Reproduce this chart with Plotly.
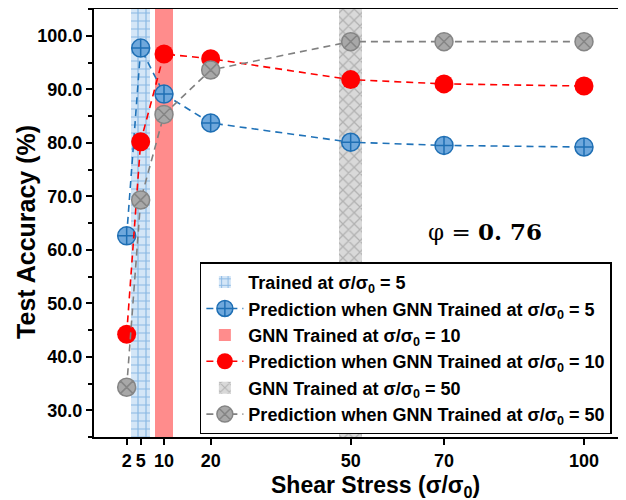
import plotly.graph_objects as go

stress = [2, 5, 10, 20, 50, 70, 100]
acc_trained5 = [62.6, 97.7, 89.1, 83.7, 80.1, 79.5, 79.2]
acc_trained10 = [44.2, 80.2, 96.6, 95.7, 91.8, 91.0, 90.6]
acc_trained50 = [34.3, 69.3, 85.3, 93.6, 98.9, 98.9, 98.9]

band_centers = [5, 10, 50]
band_widths = [4, 4, 5]
y_min, y_max = 25, 105

FONT = "Liberation Sans, Arial, sans-serif"

fig = go.Figure()

# Training bands
fig.add_trace(go.Bar(
    x=[band_centers[0]], y=[y_max - y_min], base=[y_min], width=[band_widths[0]],
    marker=dict(color="#d4e6f7", line=dict(width=0),
                pattern=dict(shape="+", fgcolor="#3f8ad0", bgcolor="#d4e6f7", size=8, solidity=0.28)),
    name="Trained at σ/σ<sub>0</sub> = 5", legendgroup="a", legendrank=1))
fig.add_trace(go.Bar(
    x=[band_centers[1]], y=[y_max - y_min], base=[y_min], width=[band_widths[1]],
    marker=dict(color="#ff8c8c", line=dict(width=0)),
    name="GNN Trained at σ/σ<sub>0</sub> = 10", legendgroup="c", legendrank=3))
fig.add_trace(go.Bar(
    x=[band_centers[2]], y=[y_max - y_min], base=[y_min], width=[band_widths[2]],
    marker=dict(color="#d9d9d9", line=dict(width=0),
                pattern=dict(shape="x", fgcolor="#8a8a8a", bgcolor="#d9d9d9", size=8, solidity=0.3)),
    name="GNN Trained at σ/σ<sub>0</sub> = 50", legendgroup="e", legendrank=5))

fig.add_trace(go.Scatter(
    x=stress, y=acc_trained5, mode="lines+markers",
    line=dict(color="#1f72b8", width=1.6, dash="7px,5px"),
    marker=dict(symbol="circle-cross", size=18, color="#6fa8dc",
                line=dict(color="#1f6fb4", width=1.5)),
    name="Prediction when GNN Trained at σ/σ<sub>0</sub> = 5", legendgroup="b", legendrank=2))
fig.add_trace(go.Scatter(
    x=stress, y=acc_trained10, mode="lines+markers",
    line=dict(color="#ff0000", width=1.6, dash="7px,5px"),
    marker=dict(symbol="circle", size=19, color="#ff0000", line=dict(width=0)),
    name="Prediction when GNN Trained at σ/σ<sub>0</sub> = 10", legendgroup="d", legendrank=4))
fig.add_trace(go.Scatter(
    x=stress, y=acc_trained50, mode="lines+markers",
    line=dict(color="#808080", width=1.6, dash="7px,5px"),
    marker=dict(symbol="circle-x", size=18, color="#a8a8a8",
                line=dict(color="#858585", width=1.5)),
    name="Prediction when GNN Trained at σ/σ<sub>0</sub> = 50", legendgroup="f", legendrank=6))

fig.add_annotation(
    x=0.735, y=0.481, xref="paper", yref="paper",
    text="φ = <b>0. 76</b>", showarrow=False, xanchor="center", yanchor="middle",
    font=dict(family="DejaVu Serif, Liberation Serif, serif", size=23, color="black"))
fig.add_annotation(
    x=-0.128, y=0.479, xref="paper", yref="paper", textangle=-90,
    text="<b>Test Accuracy (%)</b>", showarrow=False, xanchor="center", yanchor="middle",
    font=dict(family=FONT, size=25, color="black"))
fig.add_annotation(
    x=0.530, y=-0.1145, xref="paper", yref="paper",
    text="<b>Shear Stress (σ/σ<sub>0</sub>)</b>", showarrow=False, xanchor="center", yanchor="middle",
    font=dict(family=FONT, size=23, color="black"))

# page has an 8px body margin, so the figure is sized and offset to compensate
fig.update_layout(
    width=618, height=492,
    margin=dict(l=86, r=0, t=1, b=63, autoexpand=False),
    plot_bgcolor="white", paper_bgcolor="white",
    barmode="overlay", bargap=0,
    font=dict(family=FONT, color="black"),
    legend=dict(
        x=0.199, y=0.408, xanchor="left", yanchor="top",
        bgcolor="white", bordercolor="black", borderwidth=1.5,
        font=dict(family=FONT, size=18, color="black", weight="bold"),
        traceorder="grouped", tracegroupgap=0, itemwidth=37),
    xaxis=dict(
        range=[-5, 109], tickvals=stress, ticktext=[str(v) for v in stress],
        showgrid=False, zeroline=False, showline=True, linecolor="black", linewidth=2,
        mirror=True, ticks="outside", ticklen=6, tickwidth=1.5, tickcolor="black",
        automargin=False,
        tickfont=dict(family=FONT, size=18, weight="bold")),
    yaxis=dict(
        range=[y_min, y_max], dtick=10, tick0=0, tickformat=".1f",
        showgrid=False, zeroline=False, showline=True, linecolor="black", linewidth=2,
        ticks="outside", ticklen=6, tickwidth=1.5, tickcolor="black", automargin=False,
        minor=dict(dtick=5, tick0=0, ticks="outside", ticklen=4, tickwidth=1.5, tickcolor="black"),
        tickfont=dict(family=FONT, size=18, weight="bold")),
)

fig.write_html("out.html")
